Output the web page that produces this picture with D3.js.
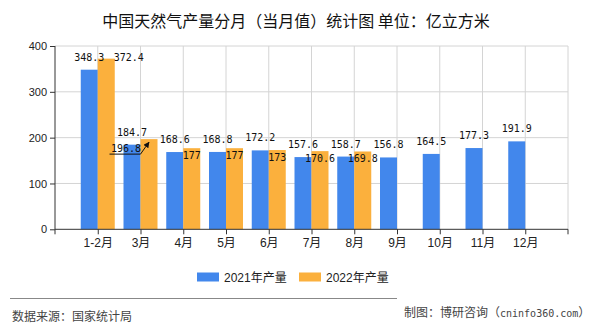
<!DOCTYPE html>
<html><head><meta charset="utf-8">
<script src="https://cdn.jsdelivr.net/npm/d3@7"></script>
<style>
body{margin:0;background:#fff;}
svg{display:block;}
</style></head>
<body><svg id="c" width="590" height="330"></svg>
<script>
const categories = ["1-2月","3月","4月","5月","6月","7月","8月","9月","10月","11月","12月"];
const series2021 = [348.3,184.7,168.6,168.8,172.2,157.6,158.7,156.8,164.5,177.3,191.9];
const series2022 = [372.4,196.8,177,177,173,170.6,169.8];
const yTicks = [0,100,200,300,400];
const seriesNames = ["2021年产量","2022年产量"];
const colors = ["#4287ec","#fbb03d"];

const svg = d3.select("#c");
const L = 55, R = 568, T = 46, B = 229.3;
const step = (R - L) / (categories.length + 1);
const x = d3.scalePoint().domain(categories).range([L + step, R - step]);
const y = d3.scaleLinear().domain([0,400]).range([B, T]);
const bw = 17;
const mono = "'DejaVu Sans Mono','Liberation Mono',monospace";
const cjk = "'Liberation Sans','Noto Sans CJK SC',sans-serif";

// title
svg.append("text").attr("x",296).attr("y",27).attr("text-anchor","middle")
  .attr("font-family","'Noto Sans CJK SC',sans-serif").attr("font-size",16).attr("fill","#111")
  .text("中国天然气产量分月（当月值）统计图 单位：亿立方米");

// grid
const g = svg.append("g");
g.selectAll(".hg").data(yTicks.filter(d=>d>0)).enter().append("line")
  .attr("x1",L).attr("x2",R).attr("y1",d=>y(d)).attr("y2",d=>y(d))
  .attr("stroke","#d4d4d4").attr("stroke-width",1);
g.selectAll(".vg").data(categories).enter().append("line")
  .attr("x1",d=>x(d)).attr("x2",d=>x(d)).attr("y1",T).attr("y2",B)
  .attr("stroke","#d4d4d4");
g.append("line").attr("x1",R).attr("x2",R).attr("y1",T).attr("y2",B).attr("stroke","#d4d4d4");

// bars
svg.append("g").selectAll("rect").data(series2021).enter().append("rect")
  .attr("x",(d,i)=>x(categories[i]) - bw).attr("width",bw)
  .attr("y",d=>y(d)).attr("height",d=>B - y(d)).attr("fill",colors[0]);
svg.append("g").selectAll("rect").data(series2022).enter().append("rect")
  .attr("x",(d,i)=>x(categories[i])).attr("width",bw)
  .attr("y",d=>y(d)).attr("height",d=>B - y(d)).attr("fill",colors[1]);

// axes
const ya = svg.append("g").attr("transform",`translate(${L},0)`)
  .call(d3.axisLeft(y).tickValues(yTicks).tickSize(5).tickPadding(3).tickFormat(d3.format("d")));
ya.select(".domain").attr("d",`M0,${T}V${B}`).attr("stroke","#333");
ya.selectAll(".tick line").attr("stroke","#333");
ya.selectAll("text").attr("font-family","'Liberation Sans',Arial,sans-serif").attr("font-size",11).attr("fill","#222");

const xa = svg.append("g").attr("transform",`translate(0,${B})`)
  .call(d3.axisBottom(x).tickSize(5).tickPadding(4));
xa.select(".domain").attr("d",`M${L},0H${R}`).attr("stroke","#333");
xa.selectAll(".tick line").attr("stroke","#333");
xa.selectAll("text").attr("font-family",cjk).attr("font-size",12).attr("fill","#222");
[L,R].forEach(px=>xa.append("line").attr("x1",px).attr("x2",px).attr("y1",0).attr("y2",5).attr("stroke","#333"));

// labels
const lab = svg.append("g").attr("font-family",mono).attr("font-size",10).attr("fill","#111").attr("text-anchor","middle");
lab.selectAll(".l1").data(series2021).enter().append("text")
  .attr("x",(d,i)=>x(categories[i]) - bw/2).attr("y",d=>y(d) - 9)
  .text(d=>d);
const adj2022 = {0:{dx:22.5,dy:2},1:{dx:-23,dy:13}};
lab.selectAll(".l2").data(series2022).enter().append("text")
  .attr("x",(d,i)=>x(categories[i]) + bw/2 + (adj2022[i]?adj2022[i].dx:0))
  .attr("y",(d,i)=>y(d) + (adj2022[i]?adj2022[i].dy:11))
  .text(d=>d);

// leader line for 3月 2022 label
const lx = x(categories[1]);
const tipX = lx + bw/2, tipY = y(series2022[1]) + 3;
svg.append("defs").append("marker").attr("id","ar").attr("viewBox","0 0 10 10")
  .attr("refX",9).attr("refY",5).attr("markerWidth",6).attr("markerHeight",6).attr("orient","auto")
  .append("path").attr("d","M0,0L10,5L0,10z").attr("fill","#111");
svg.append("path")
  .attr("d",`M${lx-31},${tipY+12}H${lx}L${tipX},${tipY}`)
  .attr("fill","none").attr("stroke","#111").attr("stroke-width",1).attr("marker-end","url(#ar)");

// legend
const lg = svg.append("g");
const lgx = [197,299];
seriesNames.forEach((n,i)=>{
  lg.append("rect").attr("x",lgx[i]).attr("y",272.5).attr("width",22).attr("height",9).attr("fill",colors[i]);
  lg.append("text").attr("x",lgx[i]+27).attr("y",281.5).attr("font-family",cjk).attr("font-size",12).attr("fill","#222").text(n);
});

// footer
svg.append("line").attr("x1",10).attr("x2",397).attr("y1",298.5).attr("y2",298.5).attr("stroke","#888");
svg.append("text").attr("x",12).attr("y",321).attr("font-family","'Noto Sans CJK SC',sans-serif")
  .attr("font-size",12).attr("fill","#444").text("数据来源：国家统计局");
const ft = svg.append("text").attr("x",404).attr("y",317).attr("font-family","'Noto Sans CJK SC',sans-serif")
  .attr("font-size",12).attr("fill","#444");
ft.append("tspan").text("制图：博研咨询（");
ft.append("tspan").attr("font-family",mono).attr("font-size",10).text("cninfo360.com");
ft.append("tspan").text("）");
</script></body></html>
